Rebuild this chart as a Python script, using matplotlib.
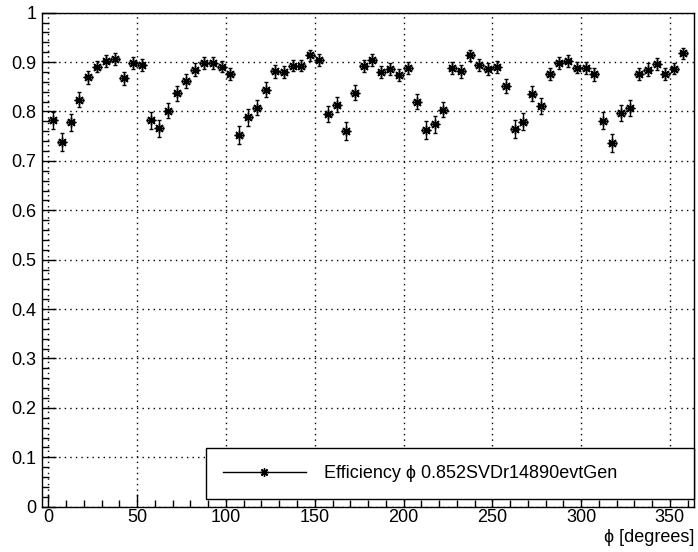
import matplotlib
matplotlib.use("Agg")
import matplotlib.pyplot as plt
from matplotlib.lines import Line2D
from matplotlib.ticker import MultipleLocator, FuncFormatter
import numpy as np

plt.rcParams['font.family'] = ['Liberation Sans', 'DejaVu Sans']

# 72 bins of 5 degrees in phi
phi = np.arange(2.5, 360, 5)
phi_err = 2.0
eff = [0.782, 0.738, 0.778, 0.824, 0.869, 0.891, 0.903, 0.906, 0.867, 0.899,
       0.894, 0.782, 0.766, 0.802, 0.837, 0.862, 0.885, 0.898, 0.898, 0.891,
       0.876, 0.753, 0.788, 0.808, 0.844, 0.881, 0.880, 0.893, 0.893, 0.914,
       0.904, 0.795, 0.814, 0.760, 0.838, 0.892, 0.905, 0.880, 0.886, 0.874,
       0.888, 0.820, 0.762, 0.774, 0.804, 0.888, 0.881, 0.914, 0.894, 0.886,
       0.890, 0.851, 0.764, 0.779, 0.836, 0.811, 0.876, 0.899, 0.902, 0.889,
       0.888, 0.875, 0.781, 0.737, 0.797, 0.807, 0.876, 0.885, 0.896, 0.876,
       0.887, 0.918]
eff_err = [0.017, 0.018, 0.017, 0.015, 0.013, 0.012, 0.012, 0.012, 0.013, 0.012,
           0.012, 0.017, 0.017, 0.016, 0.015, 0.014, 0.013, 0.012, 0.012, 0.012,
           0.013, 0.018, 0.017, 0.016, 0.015, 0.013, 0.013, 0.012, 0.012, 0.011,
           0.012, 0.017, 0.016, 0.018, 0.015, 0.012, 0.012, 0.013, 0.013, 0.013,
           0.012, 0.015, 0.018, 0.017, 0.016, 0.012, 0.013, 0.011, 0.012, 0.012,
           0.012, 0.014, 0.018, 0.017, 0.015, 0.016, 0.013, 0.012, 0.012, 0.012,
           0.012, 0.013, 0.017, 0.018, 0.016, 0.016, 0.013, 0.013, 0.012, 0.013,
           0.012, 0.011]
legend_label = "Efficiency \u03d5 0.852SVDr14890evtGen"

fig = plt.figure(figsize=(6.98, 5.52), dpi=100)
ax = fig.add_axes([0.0602, 0.0821, 0.9341, 0.8949])

star = (8, 2, 0)
ax.errorbar(phi, eff, xerr=phi_err, yerr=eff_err, fmt='none', ecolor='black',
            elinewidth=1, capsize=1.5, capthick=1, zorder=3)
ax.plot(phi, eff, linestyle='none', marker=star, markersize=7, color='black',
        markeredgewidth=1, zorder=4)

ax.set_xlim(-3.6, 363.6)
ax.set_ylim(0, 1)
ax.xaxis.set_major_locator(MultipleLocator(50))
ax.xaxis.set_minor_locator(MultipleLocator(10))
ax.yaxis.set_major_locator(MultipleLocator(0.1))
ax.yaxis.set_minor_locator(MultipleLocator(0.02))
ax.yaxis.set_major_formatter(FuncFormatter(lambda v, p: "%g" % round(v, 2)))

ax.tick_params(axis='both', which='both', direction='in', top=False, right=False,
               labelsize=13, width=1)
ax.tick_params(axis='x', which='major', length=9.5, pad=2)
ax.tick_params(axis='x', which='minor', length=4.7)
ax.tick_params(axis='y', which='major', length=10, pad=4)
ax.tick_params(axis='y', which='minor', length=5)
for s in ax.spines.values():
    s.set_linewidth(1)

ax.grid(True, which='major', color='black', linestyle=(0, (1, 3)), linewidth=1)
ax.set_axisbelow(True)

ax.set_xlabel("\u03d5 [degrees]", fontsize=13, loc='right', labelpad=2)

handle = Line2D([], [], color='black', linewidth=1, marker=star, markersize=6,
                markeredgewidth=1)
leg = ax.legend([handle], [legend_label], loc='lower left',
                bbox_to_anchor=(0.251, 0.0156, 0.749, 0.109), mode='expand',
                fontsize=13, frameon=True, fancybox=False, framealpha=1,
                edgecolor='black', borderpad=0.95, handlelength=4.6,
                handletextpad=1.0, borderaxespad=0)
leg.get_frame().set_linewidth(1)

fig.savefig("out.png", dpi=100)
